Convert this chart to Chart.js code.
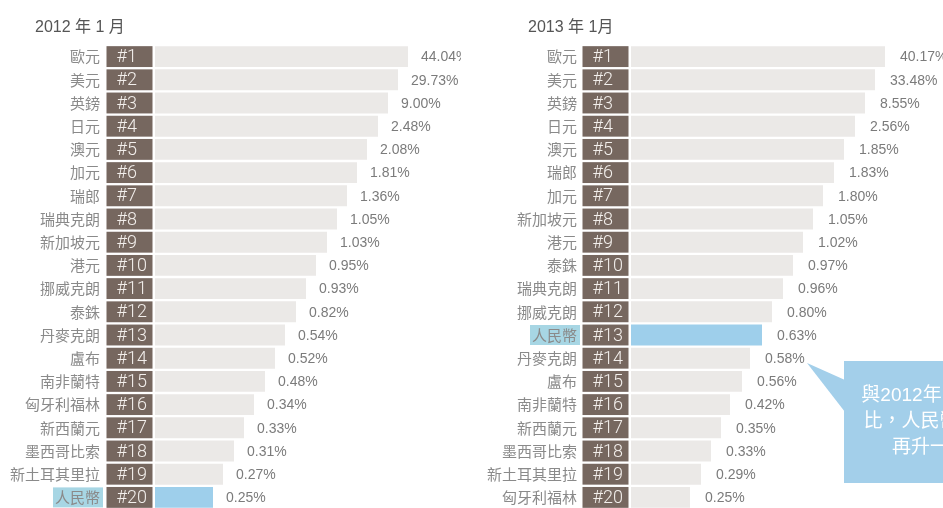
<!DOCTYPE html>
<html>
<head>
<meta charset="utf-8">
<script src="https://cdn.jsdelivr.net/npm/chart.js@4.4.1/dist/chart.umd.min.js"></script>
<style>
  html, body { margin: 0; padding: 0; background: #fff; width: 943px; height: 508px; overflow: hidden; }
  .panel { position: absolute; top: 0; height: 510px; }
  .title { position: absolute; top: 13px; color: #555; font-family: "Liberation Sans", "Noto Sans CJK TC", sans-serif; white-space: nowrap; }
  .callout-text { position: absolute; top: 382px; width: 160px; color: #fff; text-align: center;
    font: 19px/26px "Liberation Sans", "Noto Sans CJK TC", sans-serif; }
</style>
</head>
<body>
<div class="panel" style="left:0;width:461px"><canvas id="chart-2012"></canvas></div>
<div class="panel" style="left:471px;width:472px"><canvas id="chart-2013"></canvas></div>
<div class="title" style="left:35px;font-size:16px">2012 年 1 月</div>
<div class="title" style="left:528px;font-size:16px">2013 年 1月</div>
<svg style="position:absolute;left:0;top:0" width="943" height="508">
  <polygon points="807,363 845,380 845,412" fill="#a3cfea"/>
  <rect x="844" y="361" width="110" height="122" fill="#a3cfea"/>
</svg>
<div class="callout-text" style="left:850px">與2012年同期相<br>比，人民幣排名<br>再升一位</div>
<script>
const ranks = ['#1', '#2', '#3', '#4', '#5', '#6', '#7', '#8', '#9', '#10',
  '#11', '#12', '#13', '#14', '#15', '#16', '#17', '#18', '#19', '#20']

const currencies2012 = ['歐元', '美元', '英鎊', '日元', '澳元', '加元', '瑞郎', '瑞典克朗', '新加坡元', '港元',
  '挪威克朗', '泰銖', '丹麥克朗', '盧布', '南非蘭特', '匈牙利福林', '新西蘭元', '墨西哥比索', '新土耳其里拉', '人民幣']
const shares2012 = [44.04, 29.73, 9.00, 2.48, 2.08, 1.81, 1.36, 1.05, 1.03, 0.95,
  0.93, 0.82, 0.54, 0.52, 0.48, 0.34, 0.33, 0.31, 0.27, 0.25]
// drawn bar lengths (stepped by rank in the original, not proportional)
const barLength2012 = [253, 243, 233, 223, 212, 202, 192, 182, 172, 161,
  151, 141, 130, 120, 110, 99, 89, 79, 68, 58]

const currencies2013 = ['歐元', '美元', '英鎊', '日元', '澳元', '瑞郎', '加元', '新加坡元', '港元', '泰銖',
  '瑞典克朗', '挪威克朗', '人民幣', '丹麥克朗', '盧布', '南非蘭特', '新西蘭元', '墨西哥比索', '新土耳其里拉', '匈牙利福林']
const shares2013 = [40.17, 33.48, 8.55, 2.56, 1.85, 1.83, 1.80, 1.05, 1.02, 0.97,
  0.96, 0.80, 0.63, 0.58, 0.56, 0.42, 0.35, 0.33, 0.29, 0.25]
const barLength2013 = [254, 244, 234, 224, 213, 203, 192, 182, 172, 162,
  152, 141, 131, 119, 111, 99, 90, 80, 70, 59]

const HIGHLIGHT = '人民幣'
const GREY = '#ebe9e7'
const BLUE = '#9ecfeb'
const LABEL_BG = '#a7d6e4'
const RANK_BG = '#76675f'

// rank boxes on the left of each bar, value label after the bar end
const rankPlugin = {
  id: 'rankBoxes',
  afterDatasetsDraw(chart, args, opts) {
    const { ctx, chartArea } = chart
    const meta = chart.getDatasetMeta(0)
    ctx.save()
    ctx.textBaseline = 'middle'
    meta.data.forEach((bar, i) => {
      const { x, y, height } = bar.getProps(['x', 'y', 'height'], true)
      const boxLeft = chartArea.left - 2.5 - 46
      ctx.fillStyle = RANK_BG
      ctx.fillRect(boxLeft, y - height / 2, 46, height)
      ctx.fillStyle = '#f3efec'
      ctx.textAlign = 'left'
      ctx.font = '300 18px Roboto, "Liberation Sans", sans-serif'
      ctx.fillText(ranks[i], boxLeft + 10, y + 1)
      ctx.fillStyle = '#7b7b7b'
      ctx.font = '14px "Liberation Sans", Arial, sans-serif'
      ctx.fillText(opts.shares[i].toFixed(2) + '%', x + opts.offset, y + 1)
    })
    ctx.restore()
  }
}

function makeChart(id, labels, lengths, shares, axisWidth, xMax, labelGap, offset) {
  const hi = labels.indexOf(HIGHLIGHT)
  return new Chart(document.getElementById(id), {
    type: 'bar',
    data: {
      labels: labels,
      datasets: [{
        data: lengths,
        backgroundColor: labels.map(l => l === HIGHLIGHT ? BLUE : GREY),
        barPercentage: 0.9,
        categoryPercentage: 1
      }]
    },
    options: {
      indexAxis: 'y',
      responsive: true,
      maintainAspectRatio: false,
      animation: false,
      layout: { padding: { top: 45, bottom: 1, left: 0, right: 0 } },
      plugins: {
        legend: { display: false },
        tooltip: { enabled: false },
        rankBoxes: { shares: shares, offset: offset }
      },
      scales: {
        x: { display: false, min: 0, max: xMax },
        y: {
          afterFit: (scale) => {
            scale.width = axisWidth
            scale.paddingTop = 0
            scale.paddingBottom = 0
          },
          // invisible tick marks push the names left of the rank boxes
          grid: { display: false, drawTicks: true, tickLength: labelGap },
          border: { display: false },
          ticks: {
            autoSkip: false,
            padding: 0,
            color: '#8a8a8a',
            font: { family: '"Noto Sans CJK TC", sans-serif', size: 15 },
            showLabelBackdrop: (ctx) => ctx.index === hi,
            backdropColor: (ctx) => ctx.index === hi ? LABEL_BG : 'rgba(0,0,0,0)',
            backdropPadding: { top: 1, bottom: 1, left: 2, right: 3 }
          }
        }
      }
    },
    plugins: [rankPlugin]
  })
}

makeChart('chart-2012', currencies2012, barLength2012, shares2012, 155, 306, 55, 13)
makeChart('chart-2013', currencies2013, barLength2013, shares2013, 160, 312, 54, 15)
</script>
</body>
</html>
